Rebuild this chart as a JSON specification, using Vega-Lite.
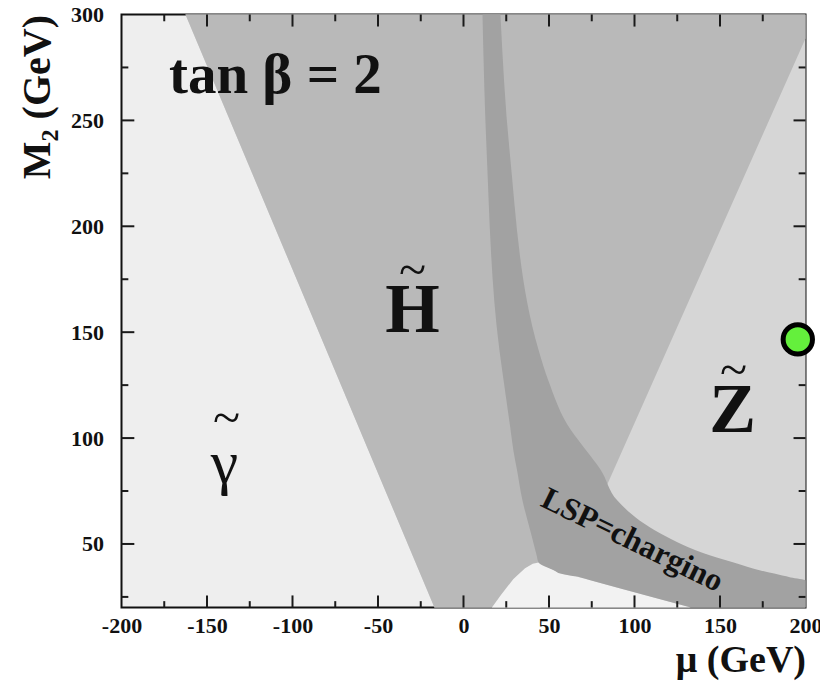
{
  "$schema": "https://vega.github.io/schema/vega-lite/v6.json",
  "width": 684,
  "height": 593,
  "autosize": "none",
  "padding": {"left": 121.5, "top": 14.5, "right": 14.5, "bottom": 73.5},
  "background": "white",
  "config": {
    "view": {"stroke": "#111111", "strokeWidth": 2, "fill": "#eeeeee"},
    "axis": {
      "labelFont": "Liberation Serif", "labelFontWeight": "bold", "labelFontSize": 22, "labelColor": "#111111",
      "titleFont": "Liberation Serif", "titleFontWeight": "bold", "titleFontSize": 38, "titleColor": "#111111",
      "ticks": false, "domain": false, "grid": false,
      "labelFlush": false, "labelOverlap": false
    }
  },
  "datasets": {
    "zregion": [{"M2": 20, "lo": -17, "hi": 200}, {"M2": 300, "lo": -162.6, "hi": 200}],
    "hregion": [
      {"M2": 20, "lo": -17, "hi": 45}, {"M2": 74, "lo": -45.1, "hi": 81.8},
      {"M2": 288.7, "lo": -156.7, "hi": 200}, {"M2": 300, "lo": -162.6, "hi": 200}
    ],
    "lowregion": [
      {"mu": 16.6, "top": 20}, {"mu": 22, "top": 26}, {"mu": 29.2, "top": 33.5}, {"mu": 36, "top": 38.5},
      {"mu": 40.5, "top": 40.6}, {"mu": 43.9, "top": 41.3}, {"mu": 56.7, "top": 36}, {"mu": 68.4, "top": 34.2},
      {"mu": 91.8, "top": 29}, {"mu": 133, "top": 20}
    ],
    "band": [
      {"M2": 20, "lo": 133, "hi": 200}, {"M2": 29, "lo": 91.8, "hi": 200}, {"M2": 32.8, "lo": 74.7, "hi": 200},
      {"M2": 34.2, "lo": 68.4, "hi": 191.3}, {"M2": 36, "lo": 56.7, "hi": 181.7}, {"M2": 37.5, "lo": 53.1, "hi": 173.7},
      {"M2": 41.3, "lo": 43.9, "hi": 158}, {"M2": 44.6, "lo": 42.8, "hi": 144.4}, {"M2": 55, "lo": 39.5, "hi": 115.2},
      {"M2": 70.5, "lo": 34.5, "hi": 90}, {"M2": 85.3, "lo": 31.2, "hi": 80}, {"M2": 94, "lo": 29.2, "hi": 71.9},
      {"M2": 104, "lo": 27.5, "hi": 62.6}, {"M2": 127, "lo": 23.5, "hi": 49.7}, {"M2": 141.6, "lo": 21, "hi": 43.9},
      {"M2": 236, "lo": 13.5, "hi": 26.9}, {"M2": 300, "lo": 11.1, "hi": 21.6}
    ],
    "xmajor": [{"mu": -150}, {"mu": -100}, {"mu": -50}, {"mu": 0}, {"mu": 50}, {"mu": 100}, {"mu": 150}],
    "xminor": [{"mu": -175}, {"mu": -125}, {"mu": -75}, {"mu": -25}, {"mu": 25}, {"mu": 75}, {"mu": 125}, {"mu": 175}],
    "ymajor": [{"M2": 50}, {"M2": 100}, {"M2": 150}, {"M2": 200}, {"M2": 250}],
    "yminor": [{"M2": 25}, {"M2": 75}, {"M2": 125}, {"M2": 175}, {"M2": 225}, {"M2": 275}],
    "bigbold": [
      {"label": "H", "mu": -29.8, "M2": 150.1},
      {"label": "Z", "mu": 157.3, "M2": 102.9}
    ],
    "tildes": [
      {"label": "~", "mu": -29.8, "M2": 171.8},
      {"label": "~", "mu": 157.9, "M2": 124.6},
      {"label": "~", "mu": -138.6, "M2": 101.9}
    ],
    "gamma": [{"label": "γ", "mu": -139.8, "M2": 79}],
    "tanb": [{"label": "tan β = 2", "mu": -110, "M2": 262.9}],
    "lsp": [{"label": "LSP=chargino", "mu": 98.8, "M2": 51.9}],
    "point": [{"mu": 195.5, "M2": 146.6}]
  },
  "layer": [
    {
      "data": {"name": "zregion"},
      "mark": {"type": "area", "orient": "horizontal", "color": "#d6d6d6"},
      "encoding": {
        "y": {"field": "M2", "type": "quantitative",
          "scale": {"domain": [20, 300], "nice": false, "zero": false},
          "axis": {"orient": "left", "values": [50, 100, 150, 200, 250, 300],
            "labelExpr": "toString(datum.value)",
            "labelPadding": 18, "title": "M₂ (GeV)", "titleAnchor": "end", "titleFontSize": 40, "titlePadding": 13}},
        "x": {"field": "lo", "type": "quantitative",
          "scale": {"domain": [-200, 200], "nice": false, "zero": false},
          "axis": {"orient": "bottom", "values": [-200, -150, -100, -50, 0, 50, 100, 150, 200],
            "labelExpr": "toString(datum.value)",
            "labelPadding": 8, "title": "μ (GeV)", "titleAnchor": "end", "titleBaseline": "alphabetic", "titleY": 64}},
        "x2": {"field": "hi"}
      }
    },
    {
      "data": {"name": "hregion"},
      "mark": {"type": "area", "orient": "horizontal", "color": "#b9b9b9"},
      "encoding": {
        "y": {"field": "M2", "type": "quantitative"},
        "x": {"field": "lo", "type": "quantitative"},
        "x2": {"field": "hi"}
      }
    },
    {
      "data": {"name": "lowregion"},
      "mark": {"type": "area", "orient": "vertical", "color": "#f2f2f2"},
      "encoding": {
        "x": {"field": "mu", "type": "quantitative"},
        "y": {"field": "top", "type": "quantitative"},
        "y2": {"datum": 20}
      }
    },
    {
      "data": {"name": "band"},
      "mark": {"type": "area", "orient": "horizontal", "color": "#a2a2a2", "interpolate": "monotone"},
      "encoding": {
        "y": {"field": "M2", "type": "quantitative"},
        "x": {"field": "lo", "type": "quantitative"},
        "x2": {"field": "hi"}
      }
    },
    {
      "data": {"name": "xmajor"},
      "mark": {"type": "rule", "color": "#1a1a1a", "strokeWidth": 2},
      "encoding": {"x": {"field": "mu", "type": "quantitative"}, "y": {"datum": 20}, "y2": {"datum": 25.7}}
    },
    {
      "data": {"name": "xmajor"},
      "mark": {"type": "rule", "color": "#1a1a1a", "strokeWidth": 2},
      "encoding": {"x": {"field": "mu", "type": "quantitative"}, "y": {"datum": 300}, "y2": {"datum": 294.3}}
    },
    {
      "data": {"name": "xminor"},
      "mark": {"type": "rule", "color": "#1a1a1a", "strokeWidth": 2},
      "encoding": {"x": {"field": "mu", "type": "quantitative"}, "y": {"datum": 20}, "y2": {"datum": 23}}
    },
    {
      "data": {"name": "xminor"},
      "mark": {"type": "rule", "color": "#1a1a1a", "strokeWidth": 2},
      "encoding": {"x": {"field": "mu", "type": "quantitative"}, "y": {"datum": 300}, "y2": {"datum": 296.8}}
    },
    {
      "data": {"name": "ymajor"},
      "mark": {"type": "rule", "color": "#1a1a1a", "strokeWidth": 2},
      "encoding": {"y": {"field": "M2", "type": "quantitative"}, "x": {"datum": -200}, "x2": {"datum": -192.5}}
    },
    {
      "data": {"name": "ymajor"},
      "mark": {"type": "rule", "color": "#1a1a1a", "strokeWidth": 2},
      "encoding": {"y": {"field": "M2", "type": "quantitative"}, "x": {"datum": 200}, "x2": {"datum": 193}}
    },
    {
      "data": {"name": "yminor"},
      "mark": {"type": "rule", "color": "#1a1a1a", "strokeWidth": 2},
      "encoding": {"y": {"field": "M2", "type": "quantitative"}, "x": {"datum": -200}, "x2": {"datum": -196}}
    },
    {
      "data": {"name": "yminor"},
      "mark": {"type": "rule", "color": "#1a1a1a", "strokeWidth": 2},
      "encoding": {"y": {"field": "M2", "type": "quantitative"}, "x": {"datum": 200}, "x2": {"datum": 196}}
    },
    {
      "data": {"name": "tanb"},
      "mark": {"type": "text", "font": "Liberation Serif", "fontWeight": "bold", "fontSize": 57, "align": "center", "baseline": "alphabetic", "color": "#111111"},
      "encoding": {
        "x": {"field": "mu", "type": "quantitative"},
        "y": {"field": "M2", "type": "quantitative"},
        "text": {"field": "label"}
      }
    },
    {
      "data": {"name": "bigbold"},
      "mark": {"type": "text", "font": "Liberation Serif", "fontWeight": "bold", "fontSize": 70, "align": "center", "baseline": "alphabetic", "color": "#111111"},
      "encoding": {
        "x": {"field": "mu", "type": "quantitative"},
        "y": {"field": "M2", "type": "quantitative"},
        "text": {"field": "label"}
      }
    },
    {
      "data": {"name": "tildes"},
      "mark": {"type": "text", "font": "Liberation Serif", "fontSize": 50, "align": "center", "baseline": "alphabetic", "color": "#111111"},
      "encoding": {
        "x": {"field": "mu", "type": "quantitative"},
        "y": {"field": "M2", "type": "quantitative"},
        "text": {"field": "label"}
      }
    },
    {
      "data": {"name": "gamma"},
      "mark": {"type": "text", "font": "Liberation Serif", "fontSize": 62, "align": "center", "baseline": "alphabetic", "color": "#111111"},
      "encoding": {
        "x": {"field": "mu", "type": "quantitative"},
        "y": {"field": "M2", "type": "quantitative"},
        "text": {"field": "label"}
      }
    },
    {
      "data": {"name": "lsp"},
      "mark": {"type": "text", "font": "Liberation Serif", "fontWeight": "bold", "fontSize": 32, "align": "center", "baseline": "middle", "angle": 26, "color": "#111111"},
      "encoding": {
        "x": {"field": "mu", "type": "quantitative"},
        "y": {"field": "M2", "type": "quantitative"},
        "text": {"field": "label"}
      }
    },
    {
      "data": {"name": "point"},
      "mark": {"type": "point", "shape": "circle", "filled": true, "size": 860, "fill": "#64f03c", "stroke": "#000000", "strokeWidth": 5, "opacity": 1, "clip": false},
      "encoding": {
        "x": {"field": "mu", "type": "quantitative"},
        "y": {"field": "M2", "type": "quantitative"}
      }
    }
  ]
}
